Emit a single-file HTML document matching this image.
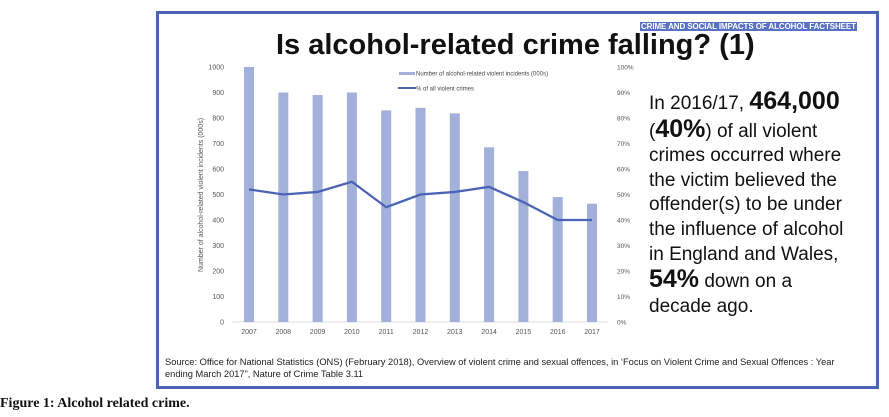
<!DOCTYPE html>
<html><head><meta charset="utf-8"><style>
body{margin:0;width:889px;height:417px;background:#fff;position:relative;overflow:hidden;font-family:"Liberation Sans",sans-serif}
.frame{position:absolute;left:156px;top:11px;width:717px;height:372px;border:3px solid #4a63b5;background:#fff}
.t{position:absolute;white-space:nowrap}
</style></head><body>
<div class="frame"></div>
<div class="t" style="left:640px;top:22px;font-size:8px;font-weight:bold;color:#fff;background:#5a72c4;padding:0 1px;letter-spacing:-0.1px">CRIME AND SOCIAL IMPACTS OF ALCOHOL FACTSHEET</div>
<div class="t" style="left:276px;top:29px;font-size:29px;font-weight:bold;color:#111">Is alcohol-related crime falling? (1)</div>
<svg id="chart" width="889" height="417" style="position:absolute;left:0;top:0"></svg>
<div class="t" style="left:649px;top:89px;font-size:19px;line-height:24.6px;color:#111">
In 2016/17, <b style="font-size:25px">464,000</b><br>(<b style="font-size:25px">40%</b>) of all violent<br>crimes occurred where<br>the victim believed the<br>offender(s) to be under<br>the influence of alcohol<br>in England and Wales,<br><b style="font-size:25px">54%</b> down on a<br>decade ago.</div>
<div class="t" style="left:165px;top:356px;font-size:9.3px;line-height:12px;color:#222">Source: Office for National Statistics (ONS) (February 2018), Overview of violent crime and sexual offences, in ‘Focus on Violent Crime and Sexual Offences : Year<br>ending March 2017”, Nature of Crime Table 3.11</div>
<div class="t" style="left:0px;top:396px;font-family:'Liberation Serif',serif;font-weight:bold;font-size:14px;color:#111">Figure 1: Alcohol related crime.</div>
<script>
const years=['2007','2008','2009','2010','2011','2012','2013','2014','2015','2016','2017'];
const incidents=[1000,900,890,900,830,840,818,685,592,490,464];
const percent=[52,50,51,55,45,50,51,53,47,40,40];
const leftTicks=[0,100,200,300,400,500,600,700,800,900,1000];
const rightTicks=[0,10,20,30,40,50,60,70,80,90,100];
const NS='http://www.w3.org/2000/svg';
const svg=document.getElementById('chart');
const y0=322,y1=67;
const yL=v=>y0-(v/1000)*(y0-y1);
const yR=v=>y0-(v/100)*(y0-y1);
const xC=i=>249+i*34.3;
function mk(tag,attrs,text){const e=document.createElementNS(NS,tag);for(const k in attrs)e.setAttribute(k,attrs[k]);if(text!==undefined)e.textContent=text;svg.appendChild(e);return e;}
let ax=mk('line',{x1:232,x2:608,y1:y0,y2:y0,stroke:'#ddd','stroke-width':1});


leftTicks.forEach(v=>{const t=mk('text',{x:224,y:yL(v)+2.5,'font-size':7,fill:'#555','text-anchor':'end','font-family':'Liberation Sans'},v);

});
rightTicks.forEach(v=>{const t=mk('text',{x:617,y:yR(v)+2.5,'font-size':6.5,fill:'#555','font-family':'Liberation Sans'},v+'%');

});
const at=mk('text',{x:0,y:0,'font-size':7,fill:'#555','text-anchor':'middle','font-family':'Liberation Sans',transform:'translate(203,195) rotate(-90)'},'Number of alcohol-related violent incidents (000s)');


incidents.forEach((v,i)=>{const b=mk('rect',{x:xC(i)-5,y:yL(v),width:10,height:y0-yL(v),fill:'#a3b1da'});


const t=mk('text',{x:xC(i),y:334,'font-size':7,fill:'#555','text-anchor':'middle','font-family':'Liberation Sans'},years[i]);

});
const pl=mk('polyline',{points:percent.map((v,i)=>xC(i)+','+yR(v)).join(' '),fill:'none',stroke:'#4a63b5','stroke-width':2.3});


const ls=mk('rect',{x:399,y:72,width:16,height:3,fill:'#a3b1da'});


const lt=mk('text',{x:416,y:75.5,'font-size':6,fill:'#444','font-family':'Liberation Sans'},'Number of alcohol-related violent incidents (000s)');


const ll=mk('line',{x1:398,x2:416,y1:88,y2:88,stroke:'#4a63b5','stroke-width':2});


const lt2=mk('text',{x:416,y:90.5,'font-size':6,fill:'#444','font-family':'Liberation Sans'},'% of all violent crimes');


</script>
</body></html>
